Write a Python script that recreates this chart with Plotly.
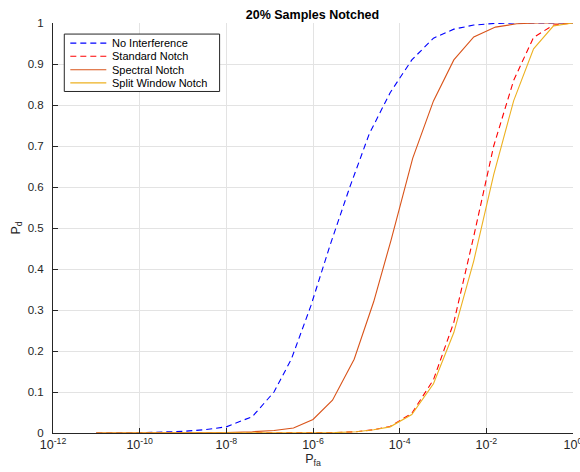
import plotly.graph_objects as go

# Detection probability vs false-alarm probability (log10 of Pfa as exponents)
no_interf_exp = [-11, -10, -9, -8.5, -8.0, -7.4, -6.9, -6.5, -6.05, -5.6, -5.15,
                 -4.7, -4.22, -3.72, -3.22, -2.75, -2.29, -1.8, -1.3, 0]
no_interf_pd = [0, 0.0005, 0.004, 0.008, 0.015, 0.04, 0.10, 0.18, 0.31, 0.46, 0.60,
                0.73, 0.83, 0.91, 0.963, 0.985, 0.995, 0.999, 1, 1]

spectral_exp = [-11, -10, -9, -8, -7.4, -6.9, -6.45, -6.0, -5.55, -5.05, -4.6,
                -4.2, -3.7, -3.22, -2.75, -2.29, -1.79, -1.3, -0.8, 0]
spectral_pd = [0, 0, 0.0003, 0.001, 0.003, 0.006, 0.012, 0.033, 0.08, 0.18, 0.32,
               0.47, 0.67, 0.81, 0.91, 0.966, 0.99, 0.998, 1, 1]

notch_exp = [-11, -9, -7, -6, -5.5, -5.0, -4.6, -4.22, -3.72, -3.22, -2.75,
             -2.29, -1.83, -1.37, -0.91, -0.45, 0]
standard_pd = [0, 0, 0, 0.0003, 0.001, 0.003, 0.008, 0.016, 0.048, 0.13, 0.27,
               0.48, 0.70, 0.86, 0.965, 0.995, 1]
split_pd = [0, 0, 0, 0.0003, 0.001, 0.003, 0.008, 0.015, 0.045, 0.12, 0.245,
            0.42, 0.63, 0.81, 0.937, 0.993, 1]

series_names = ["No Interference", "Standard Notch", "Spectral Notch", "Split Window Notch"]
x_tick_exp = [-12, -10, -8, -6, -4, -2, 0]
y_ticks = [0, 0.1, 0.2, 0.3, 0.4, 0.5, 0.6, 0.7, 0.8, 0.9, 1]
y_tick_text = ["0", "0.1", "0.2", "0.3", "0.4", "0.5", "0.6", "0.7", "0.8", "0.9", "1"]

FONT = "Liberation Sans, Arial, Helvetica, sans-serif"
INK = "#262626"

styles = [
    dict(color="#0000FF", dash="6px,4px"),
    dict(color="#FF0000", dash="6px,4px"),
    dict(color="#D95319", dash="solid"),
    dict(color="#EDB120", dash="solid"),
]

series = [
    (no_interf_exp, no_interf_pd),
    (notch_exp, standard_pd),
    (spectral_exp, spectral_pd),
    (notch_exp, split_pd),
]

fig = go.Figure()
for name, (ex, pd_vals), st in zip(series_names, series, styles):
    fig.add_trace(go.Scatter(
        x=[10 ** e for e in ex], y=pd_vals, mode="lines", name=name,
        line=dict(color=st["color"], dash=st["dash"], width=1.1),
        showlegend=False,
    ))

# Boxed legend in the upper-left corner of the axes
box_x0, box_x1 = 0.0217, 0.3204
box_y0, box_y1 = 0.833, 0.973
row_y = [0.951, 0.919, 0.886, 0.854]
fig.add_shape(type="rect", xref="paper", yref="paper",
              x0=box_x0, x1=box_x1, y0=box_y0, y1=box_y1,
              line=dict(color=INK, width=1), fillcolor="white", layer="above")
for name, st, yy in zip(series_names, styles, row_y):
    fig.add_shape(type="line", xref="paper", yref="paper",
                  x0=0.0333, x1=0.1025, y0=yy, y1=yy, layer="above",
                  line=dict(color=st["color"], width=1.1,
                            dash=st["dash"] if st["dash"] != "solid" else None))
    fig.add_annotation(xref="paper", yref="paper", x=0.110, y=yy, text=name,
                       showarrow=False, xanchor="left", yanchor="middle",
                       font=dict(family=FONT, size=11, color="black"))

fig.update_layout(
    width=580, height=472,
    margin=dict(l=53, r=7, t=23, b=39, autoexpand=False),
    paper_bgcolor="white", plot_bgcolor="white",
    font=dict(family=FONT, size=11.5, color=INK),
    title=dict(text="<b>20% Samples Notched</b>", x=0.5387, xanchor="center",
               y=0.97, yanchor="middle",
               font=dict(family=FONT, size=12.5, color="black")),
)

fig.update_xaxes(
    type="log", range=[-12, 0],
    tickvals=[10 ** e for e in x_tick_exp],
    ticktext=[f"10<sup>{e}</sup>" for e in x_tick_exp],
    tickfont=dict(size=12.5), ticklabeloverflow="allow",
    ticks="inside", ticklen=5, tickcolor=INK, tickwidth=1,
    showline=True, linecolor=INK, linewidth=1, mirror=False,
    showgrid=True, gridcolor="#e3e3e3", gridwidth=1, zeroline=False,
    title=dict(text="P<sub>fa</sub>", standoff=3, font=dict(size=12.5)),
)
fig.update_yaxes(
    range=[0, 1], tickvals=y_ticks, ticktext=y_tick_text,
    ticks="inside", ticklen=5, tickcolor=INK, tickwidth=1, ticklabelstandoff=6,
    showline=True, linecolor=INK, linewidth=1, mirror=False,
    showgrid=True, gridcolor="#e3e3e3", gridwidth=1, zeroline=False,
    title=dict(text="P<sub>d</sub>", standoff=4, font=dict(size=12.5)),
)

fig.write_html("out.html")
